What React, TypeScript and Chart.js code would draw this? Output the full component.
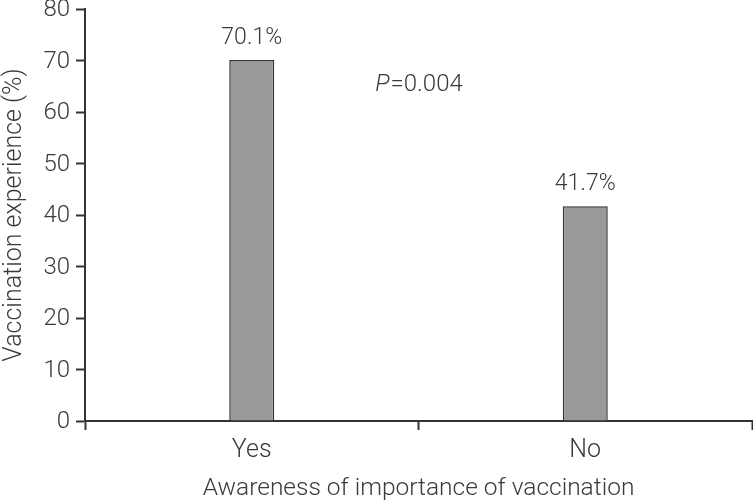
import React, { useEffect, useRef } from "react";
import { Chart, registerables } from "chart.js";

Chart.register(...registerables);

const categories = ["Yes", "No"];
const values = [70.1, 41.7];
const valueLabels = ["70.1%", "41.7%"];
const yTicks = [0, 10, 20, 30, 40, 50, 60, 70, 80];
const pText = "P";
const pValueText = "=0.004";

const FONT = "Roboto";
const TEXT = "#3a3a3a";
const AXIS = "#333333";

const labelsPlugin = {
  id: "valueLabels",
  afterDatasetsDraw(chart: any) {
    const ctx = chart.ctx;
    const meta = chart.getDatasetMeta(0);
    const xs = chart.scales.x;
    const ys = chart.scales.y;
    ctx.save();
    ctx.fillStyle = TEXT;
    ctx.textAlign = "center";
    ctx.textBaseline = "alphabetic";
    ctx.font = `300 23px ${FONT}`;
    meta.data.forEach((bar: any, i: number) => {
      ctx.fillText(valueLabels[i], bar.x, bar.y - 16);
    });
    // P value annotation
    const cx = xs.getPixelForValue(0.5);
    const cy = ys.getPixelForValue(64);
    ctx.font = `italic 300 24px ${FONT}`;
    const wP = ctx.measureText(pText).width;
    ctx.font = `300 24px ${FONT}`;
    const wV = ctx.measureText(pValueText).width;
    const start = cx - (wP + wV) / 2;
    ctx.textAlign = "left";
    ctx.font = `italic 300 24px ${FONT}`;
    ctx.fillText(pText, start, cy);
    ctx.font = `300 24px ${FONT}`;
    ctx.fillText(pValueText, start + wP + 1, cy);
    ctx.restore();
  },
};

export default function App() {
  const ref = useRef<HTMLCanvasElement | null>(null);
  useEffect(() => {
    if (!ref.current) return;
    const chart = new Chart(ref.current, {
      type: "bar",
      data: {
        labels: categories,
        datasets: [
          {
            data: values,
            backgroundColor: "#999999",
            borderColor: "#333333",
            borderWidth: 1.5,
            barPercentage: 0.135,
            categoryPercentage: 1,
          },
        ],
      },
      options: {
        responsive: false,
        animation: false,
        devicePixelRatio: 1,
        layout: { padding: { left: 0, right: 1, top: 9, bottom: 0 } },
        plugins: {
          legend: { display: false },
          tooltip: { enabled: false },
        },
        scales: {
          x: {
            grid: {
              display: true,
              drawOnChartArea: false,
              drawTicks: true,
              tickLength: 9,
              tickWidth: 2,
              tickColor: AXIS,
              offset: true,
            },
            border: { display: true, color: AXIS, width: 2 },
            ticks: {
              color: TEXT,
              font: { family: FONT, size: 25, weight: "300" },
              padding: 6,
            },
            title: {
              display: true,
              text: "Awareness of importance of vaccination",
              color: TEXT,
              font: { family: FONT, size: 24.5, weight: "300" },
              padding: { top: 4, bottom: -4 },
            },
            afterFit: (s: any) => {
              s.height = 79;
              s.paddingLeft = 0;
              s.paddingRight = 0;
            },
          },
          y: {
            min: 0,
            max: 80,
            afterBuildTicks: (s: any) => {
              s.ticks = yTicks.map((v) => ({ value: v }));
            },
            grid: {
              display: true,
              drawOnChartArea: false,
              drawTicks: true,
              tickLength: 9,
              tickWidth: 2,
              tickColor: AXIS,
            },
            border: { display: true, color: AXIS, width: 2 },
            ticks: {
              color: TEXT,
              font: { family: FONT, size: 24, weight: "300" },
              padding: 6,
              labelOffset: 1,
            },
            title: {
              display: true,
              text: "Vaccination experience (%)",
              color: TEXT,
              font: { family: FONT, size: 25, weight: "300" },
              padding: { top: 0, bottom: 1 },
            },
            afterFit: (s: any) => {
              s.width = 85;
              s.paddingTop = 0;
              s.paddingBottom = 0;
            },
          },
        },
      },
      plugins: [labelsPlugin],
    });
    return () => chart.destroy();
  }, []);
  return (
    <div style={{ position: "fixed", left: 0, top: 0, width: 753, height: 500, background: "#fff" }}>
      <canvas ref={ref} width={753} height={500} style={{ display: "block" }} />
    </div>
  );
}
